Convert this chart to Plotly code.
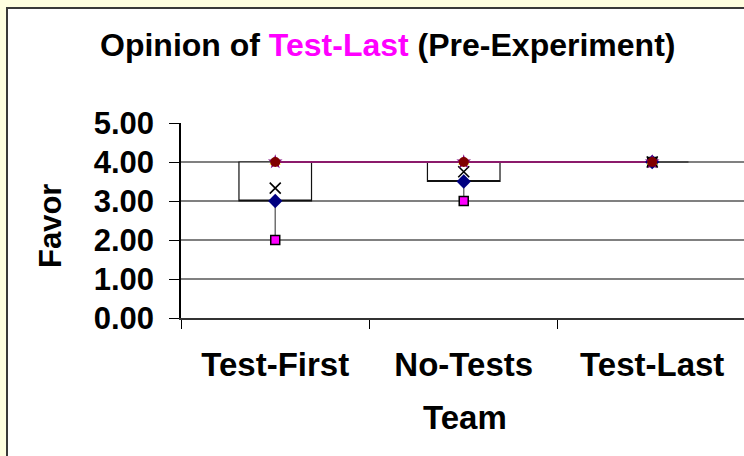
import plotly.graph_objects as go

# Summary statistics of the "Favor" rating per team
categories = ["Test-First", "No-Tests", "Test-Last"]
minimum = [2.0, 3.0, 4.0]
q1 = [3.0, 3.5, 4.0]
median = [4.0, 4.0, 4.0]
q3 = [4.0, 4.0, 4.0]
maximum = [4.0, 4.0, 4.0]
mean = [3.33, 3.75, 4.0]
y_ticks = [0, 1, 2, 3, 4, 5]

W, H = 744, 456
L, R, T, B = 181, 0, 123, 138
PW, PH = W - L - R, H - T - B


def px_x(px):
    return (px - L) / PW


def px_y(py):
    return (H - B - py) / PH


FONT = "Liberation Sans, Arial, sans-serif"

fig = go.Figure()

# Max series line runs behind the boxes
fig.add_trace(go.Scatter(
    x=categories, y=maximum, mode="lines",
    line=dict(color="#8B1A6B", width=2), hoverinfo="skip", showlegend=False))

# Boxes span Q1..Q3
fig.add_trace(go.Box(
    x=categories, q1=q1, median=q1, q3=q3, lowerfence=q1, upperfence=q3,
    fillcolor="white", line=dict(color="#111111", width=1.2),
    width=0.385, whiskerwidth=0, hoverinfo="skip", showlegend=False))

# Lower whisker from the minimum to Q1
wx, wy = [], []
for c, lo, hi in zip(categories, minimum, q1):
    wx += [c, c, None]
    wy += [lo, hi, None]
fig.add_trace(go.Scatter(
    x=wx, y=wy, mode="lines", line=dict(color="#707070", width=1.5),
    hoverinfo="skip", showlegend=False))

marker_series = [
    (minimum, dict(symbol="square", size=9, color="#FF00FF",
                   line=dict(color="black", width=1.5))),
    (q1, dict(symbol="diamond", size=11, color="#000080",
              line=dict(color="#000080", width=0))),
    (mean, dict(symbol="x-thin-open", size=11, color="black",
                line=dict(color="black", width=1.6))),
    (median, dict(symbol="triangle-up", size=10, color="#FFFF00",
                  line=dict(color="#FFFF00", width=0))),
    (q3, dict(symbol="star", size=11, color="#800080",
              line=dict(color="#800080", width=0))),
    (maximum, dict(symbol="circle", size=10, color="#800000",
                   line=dict(color="#800000", width=0))),
]
for vals, mk in marker_series:
    fig.add_trace(go.Scatter(
        x=categories, y=vals, mode="markers", marker=mk,
        hoverinfo="skip", showlegend=False))

fig.update_layout(
    width=W, height=H,
    margin=dict(l=L, r=R, t=T, b=B, pad=0),
    paper_bgcolor="#FFFFE0",
    plot_bgcolor="white",
    font=dict(family=FONT, color="black"),
    shapes=[
        # white chart area with dark frame
        dict(type="rect", xref="paper", yref="paper", layer="below",
             x0=px_x(7), x1=px_x(770), y0=px_y(480), y1=px_y(8),
             fillcolor="white", line=dict(color="#3a3a3a", width=2)),
    ],
    annotations=[
        dict(text="Opinion of <span style='color:#FF00FF'>Test-Last</span> (Pre-Experiment)",
             xref="paper", yref="paper", x=px_x(387.5), y=px_y(45),
             xanchor="center", yanchor="middle", showarrow=False,
             font=dict(size=32, family=FONT, weight="bold", color="black")),
        dict(text="Favor", xref="paper", yref="paper",
             x=px_x(50), y=px_y(226), textangle=-90,
             xanchor="center", yanchor="middle", showarrow=False,
             font=dict(size=31, family=FONT, weight="bold", color="black")),
        dict(text="Team", xref="paper", yref="paper",
             x=px_x(465), y=px_y(417),
             xanchor="center", yanchor="middle", showarrow=False,
             font=dict(size=33, family=FONT, weight="bold", color="black")),
    ],
)

fig.update_xaxes(
    type="category", categoryorder="array", categoryarray=categories,
    range=[-0.5, 2.487], tickson="boundaries",
    ticks="outside", ticklen=9, tickwidth=1, tickcolor="black",
    showline=True, linecolor="#333333", linewidth=2,
    showgrid=False, zeroline=False,
    ticklabelstandoff=16,
    tickfont=dict(size=33, family=FONT, weight="bold", color="black"),
)
fig.update_yaxes(
    range=[0, 5], tickvals=y_ticks, tickformat=".2f",
    ticks="outside", ticklen=10, tickwidth=1, tickcolor="black",
    showline=True, linecolor="black", linewidth=1.5,
    showgrid=True, gridcolor="#808080", gridwidth=2, zeroline=False,
    ticklabelstandoff=9,
    tickfont=dict(size=31, family=FONT, weight="bold", color="black"),
)

fig.write_html("out.html")
